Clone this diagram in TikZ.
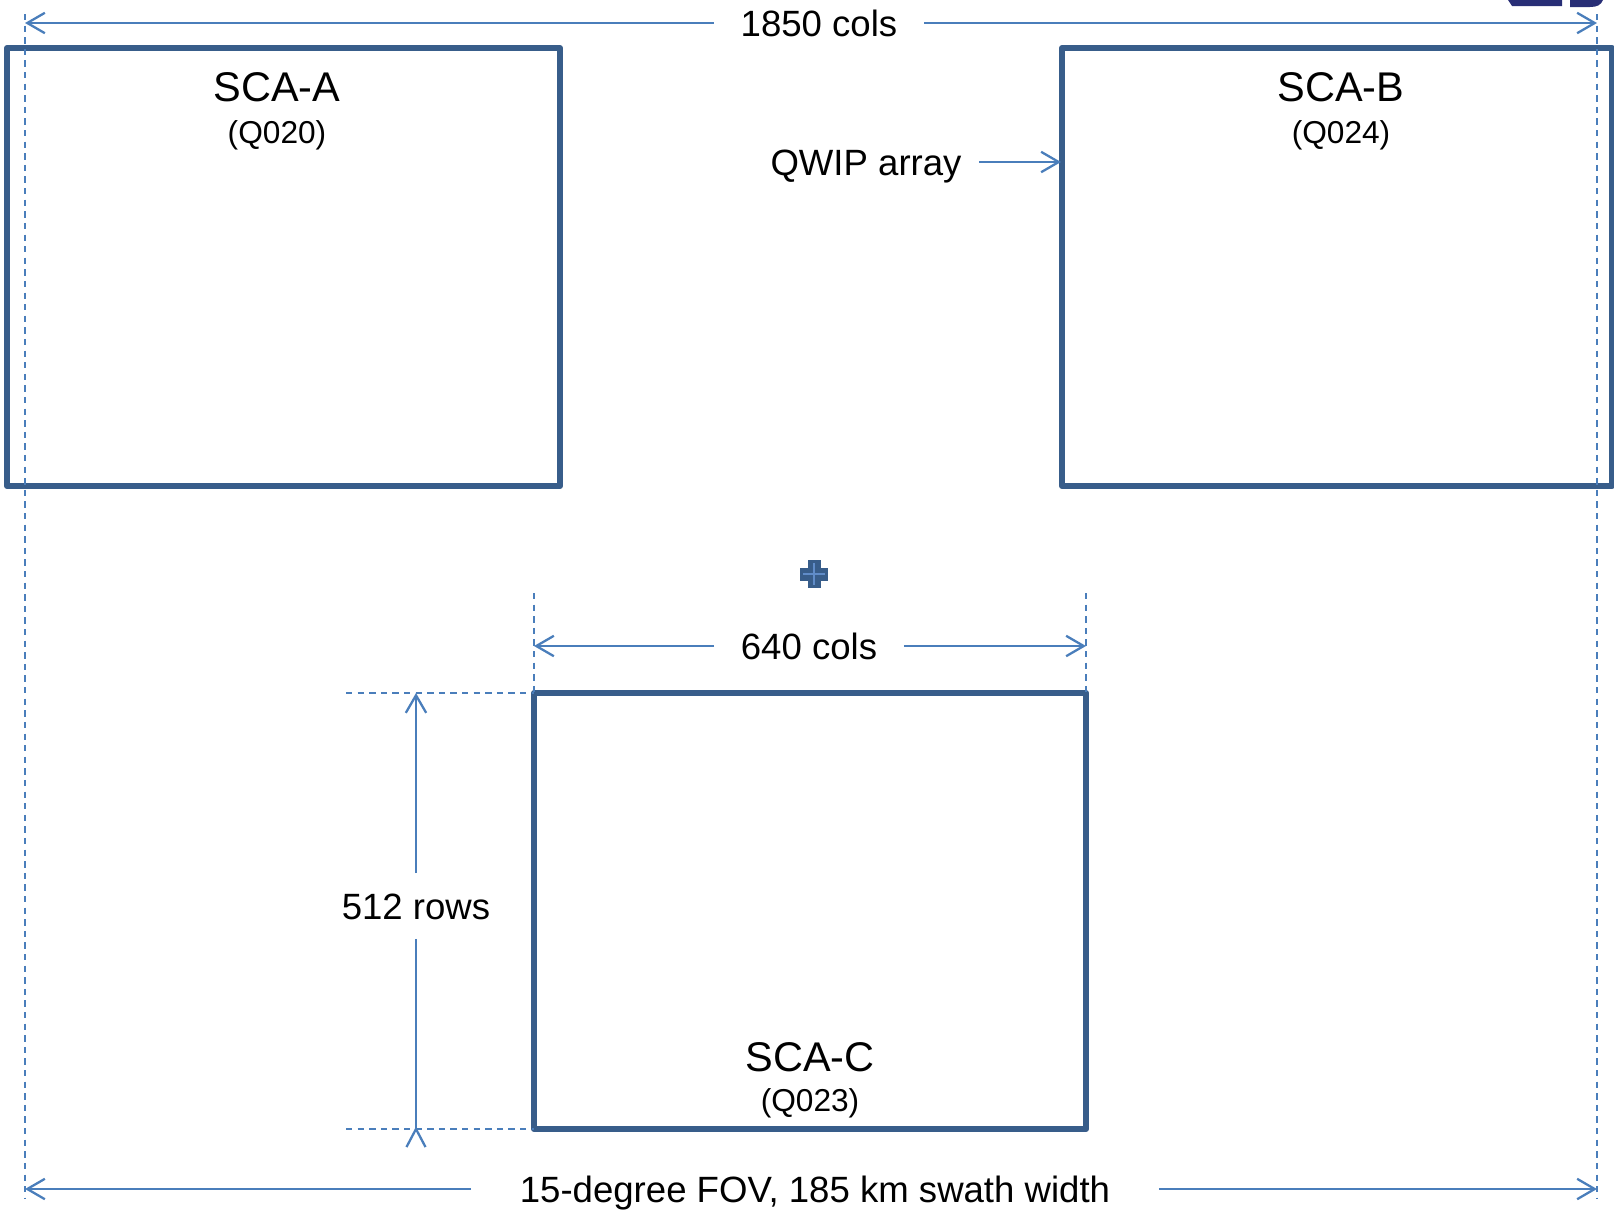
\documentclass[tikz,border=0pt]{standalone}
\usepackage{fontspec}
\setmainfont{Liberation Sans}
\usetikzlibrary{arrows.meta}
\definecolor{boxblue}{RGB}{56,93,138}
\definecolor{dimblue}{RGB}{74,126,187}
\definecolor{plusline}{RGB}{96,140,200}
\definecolor{logonavy}{RGB}{40,46,118}

\begin{document}
\begin{tikzpicture}[line join=round,>={Straight Barb[length=5pt,width=5.8pt]},x=0.01cm,y=-0.01cm,
		sca/.style={draw=boxblue,line width=1.7pt},
		dimline/.style={draw=dimblue,line width=0.65pt},
		guideline/.style={draw=dimblue,line width=0.65pt,dash pattern=on 1.8pt off 1.5pt},
		scaname/.style={font=\fontsize{11.8}{14}\selectfont,anchor=base},
		scaid/.style={font=\fontsize{9}{10}\selectfont,anchor=base},
		dimlbl/.style={font=\fontsize{10.4}{12}\selectfont,text height=7.45pt,text depth=0pt,inner xsep=7.4pt}]
		\useasboundingbox (0,0) rectangle (1614,1211);
		
		% logo edge at the top
		\fill[logonavy] (1508,0) -- (1562,0) -- (1562,6) -- (1512,6) -- cycle;
		\fill[logonavy] (1570,0) -- (1603,0) .. controls (1601,5) and (1597,7) .. (1590,7) -- (1570,7) -- cycle;
		
		% the three arrays
		\draw[sca] (7,48) rectangle (560,486);
		\draw[sca] (1062,48) rectangle (1612,486);
		\draw[sca] (534,693) rectangle (1086,1129);
		\node[scaname] (nameA) at (277,101) {SCA-A};
		\node[scaid] (idA) at (277,143) {(Q020)};
		\node[scaname] (nameB) at (1341,101) {SCA-B};
		\node[scaid] (idB) at (1341,143) {(Q024)};
		\node[scaname] (nameC) at (810,1071) {SCA-C};
		\node[scaid] (idC) at (810,1111) {(Q023)};
		
		% boresight
		\fill[boxblue] (800,567.5) rectangle (828,580.5);
		\fill[boxblue] (807.5,560) rectangle (820.5,588);
		\draw[plusline,line width=0.5pt] (803,574) -- (825,574);
		\draw[plusline,line width=0.5pt] (814,563) -- (814,585);
		
		% guide lines
		\draw[guideline] (25,14) -- (25,1199);
		\draw[guideline] (1597,14) -- (1597,1199);
		\draw[guideline] (534,593) -- (534,693);
		\draw[guideline] (1086,593) -- (1086,693);
		\draw[guideline] (346,693) -- (534,693);
		\draw[guideline] (346,1129) -- (534,1129);
		
		% total width
		\coordinate (fovL) at (25,23);
		\coordinate (fovR) at (1597,23);
		\node[dimlbl] (t1850) at (819,23) {1850 cols};
		\draw[dimline,->] (t1850.west) -- (fovL);
		\draw[dimline,->] (t1850.east) -- (fovR);
		
		% qwip label
		\coordinate (qwipTip) at (1061,162);
		\node[dimlbl,inner xsep=4.8pt] (tqwip) at (866,162) {QWIP array};
		\draw[dimline,->] (tqwip.east) -- (qwipTip);
		
		% array width
		\coordinate (colsL) at (534,646);
		\coordinate (colsR) at (1086,646);
		\node[dimlbl] (t640) at (809,646) {640 cols};
		\draw[dimline,->] (t640.west) -- (colsL);
		\draw[dimline,->] (t640.east) -- (colsR);
		
		% array height
		\coordinate (rowsT) at (416,693);
		\coordinate (rowsB) at (416,1129);
		\node[dimlbl,inner ysep=5.4pt] (t512) at (416,906) {512 rows};
		\draw[dimline,->] (t512.north) -- (rowsT);
		\draw[dimline] (t512.south) -- (rowsB);
		\draw[dimline] (rowsB) ++(-9.5,18) -- (rowsB) -- ++(9.5,18);
		
		% swath
		\coordinate (swL) at (25,1189);
		\coordinate (swR) at (1597,1189);
		\node[dimlbl,inner xsep=13.7pt] (tswath) at (815,1189) {15-degree FOV, 185 km swath width};
		\draw[dimline,->] (tswath.west) -- (swL);
		\draw[dimline,->] (tswath.east) -- (swR);
	\end{tikzpicture}
\end{document}
